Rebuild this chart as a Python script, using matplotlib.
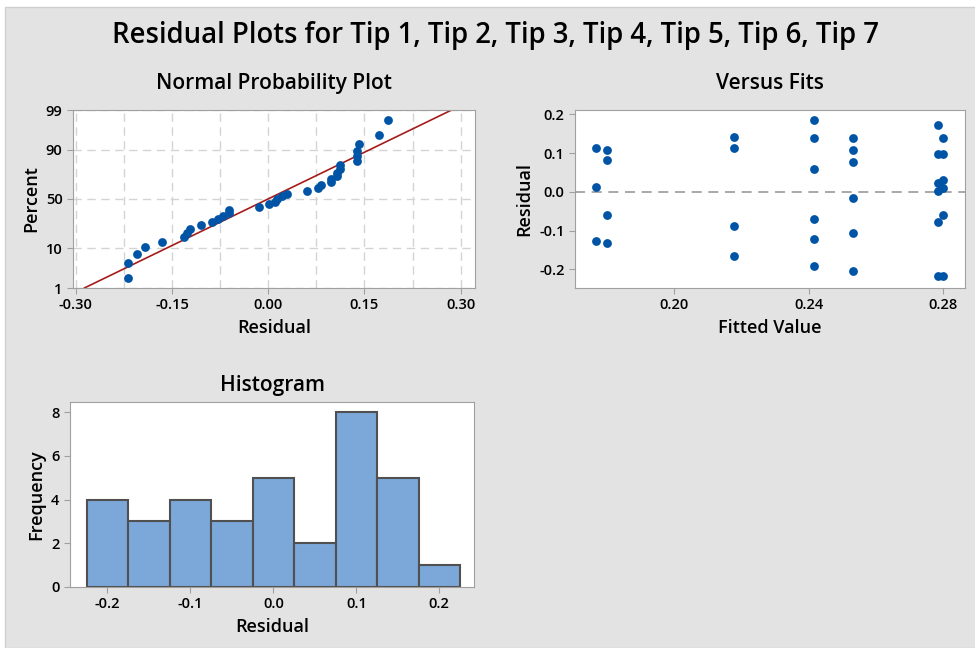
"""Residual plots (normal probability, versus fits, histogram) for Tip 1..7"""

from statistics import NormalDist

import numpy as np
import matplotlib.pyplot as plt
from matplotlib.patches import Rectangle

plt.rcParams["font.family"] = ["Open Sans", "DejaVu Sans"]

# fitted value of each group and the residuals
fitted_groups = [0.1767, 0.1802, 0.2178, 0.2416, 0.2532, 0.2786, 0.2801]
residual_groups = [
    [0.112, 0.013, -0.127],
    [0.108, 0.082, -0.061, -0.131],
    [0.142, 0.112, -0.088, -0.166],
    [0.186, 0.138, 0.060, -0.071, -0.122, -0.192],
    [0.138, 0.108, 0.078, -0.015, -0.105, -0.205],
    [0.173, 0.098, 0.022, 0.002, -0.079, -0.218],
    [0.138, 0.098, 0.030, 0.010, -0.061, -0.218],
]
hist_edges = [-0.225, -0.175, -0.125, -0.075, -0.025, 0.025, 0.075, 0.125, 0.175, 0.225]
pct_ticks = [1, 10, 50, 90, 99]

fitted = np.concatenate([[f] * len(r) for f, r in zip(fitted_groups, residual_groups)])
resid = np.concatenate(residual_groups)

BG = "#e3e3e3"
SPINE = "#a0a0a0"
DOT = "#0054a6"
W, H = 975, 648

fig = plt.figure(figsize=(W / 100, H / 100), dpi=100)
fig.patch.set_facecolor("white")
fig.patches.append(Rectangle((5 / W, 0), 1, 1 - 7 / H, transform=fig.transFigure,
                             facecolor=BG, edgecolor="#cfcfcf", lw=1, zorder=-10))


def px_axes(left, top, right, bottom):
    return fig.add_axes([left / W, 1 - bottom / H, (right - left) / W, (bottom - top) / H])


def style(ax, title, xlabel, ylabel, pad=15):
    for s in ax.spines.values():
        s.set_color(SPINE)
    ax.tick_params(colors=SPINE, labelcolor="black", labelsize=10.5, length=4)
    for lab in ax.get_xticklabels() + ax.get_yticklabels():
        lab.set_fontweight("semibold")
    ax.set_title(title, fontsize=15, fontweight="semibold", pad=pad)
    ax.set_xlabel(xlabel, fontsize=13, fontweight="semibold", labelpad=5)
    ax.set_ylabel(ylabel, fontsize=13, fontweight="semibold")


nd = NormalDist()

# ---- Normal probability plot
ax1 = px_axes(73, 110, 475, 288)
n = len(resid)
srt = np.sort(resid)
z = np.array([nd.inv_cdf((i - 0.3) / (n + 0.4)) for i in range(1, n + 1)])
mu, sd = resid.mean(), resid.std(ddof=1)
zlo, zhi = nd.inv_cdf(0.01), nd.inv_cdf(0.99)
ax1.plot([mu + sd * zlo, mu + sd * zhi], [zlo, zhi], color="#a51c1c", lw=1.2, zorder=2)
ax1.scatter(srt, z, s=40, color=DOT, zorder=3, linewidths=0)
ax1.set_xlim(-0.3043, 0.3224)
ax1.set_ylim(zlo, zhi)
ax1.set_xticks([-0.30, -0.15, 0.0, 0.15, 0.30])
ax1.set_xticklabels(["-0.30", "-0.15", "0.00", "0.15", "0.30"])
ax1.set_xticks(np.arange(-0.225, 0.3, 0.15), minor=True)
ax1.set_yticks([nd.inv_cdf(p / 100) for p in pct_ticks])
ax1.set_yticklabels([str(p) for p in pct_ticks])
ax1.tick_params(which="minor", length=0)
ax1.grid(True, which="both", color="#d4d4d4", ls=(0, (6, 4)), lw=1)
ax1.set_axisbelow(True)
style(ax1, "Normal Probability Plot", "Residual", "Percent")

# ---- Versus fits
ax2 = px_axes(575, 110, 965, 288)
ax2.axhline(0, color="#999999", ls=(0, (6, 4)), lw=1.2, zorder=1)
ax2.scatter(fitted, resid, s=40, color=DOT, zorder=3, linewidths=0)
ax2.set_xlim(0.1706, 0.2865)
ax2.set_ylim(-0.248, 0.211)
ax2.set_xticks([0.20, 0.24, 0.28])
ax2.set_xticklabels(["0.20", "0.24", "0.28"])
ax2.set_yticks([-0.2, -0.1, 0.0, 0.1, 0.2])
ax2.set_yticklabels(["-0.2", "-0.1", "0.0", "0.1", "0.2"])
style(ax2, "Versus Fits", "Fitted Value", "Residual")

# ---- Histogram
ax3 = px_axes(70, 402, 474, 587)
ax3.hist(resid, bins=hist_edges, color="#7ba7d9", edgecolor="#505050", lw=1.5)
ax3.set_xlim(-0.245, 0.2418)
ax3.set_ylim(0, 8.46)
ax3.set_xticks([-0.2, -0.1, 0.0, 0.1, 0.2])
ax3.set_xticklabels(["-0.2", "-0.1", "0.0", "0.1", "0.2"])
ax3.set_yticks([0, 2, 4, 6, 8])
style(ax3, "Histogram", "Residual", "Frequency", pad=8)

fig.text(496 / W, 1 - 36 / H, "Residual Plots for Tip 1, Tip 2, Tip 3, Tip 4, Tip 5, Tip 6, Tip 7",
         ha="center", va="center", fontsize=19.8, fontweight="semibold")

fig.savefig("out.png", dpi=100, facecolor=fig.get_facecolor())
